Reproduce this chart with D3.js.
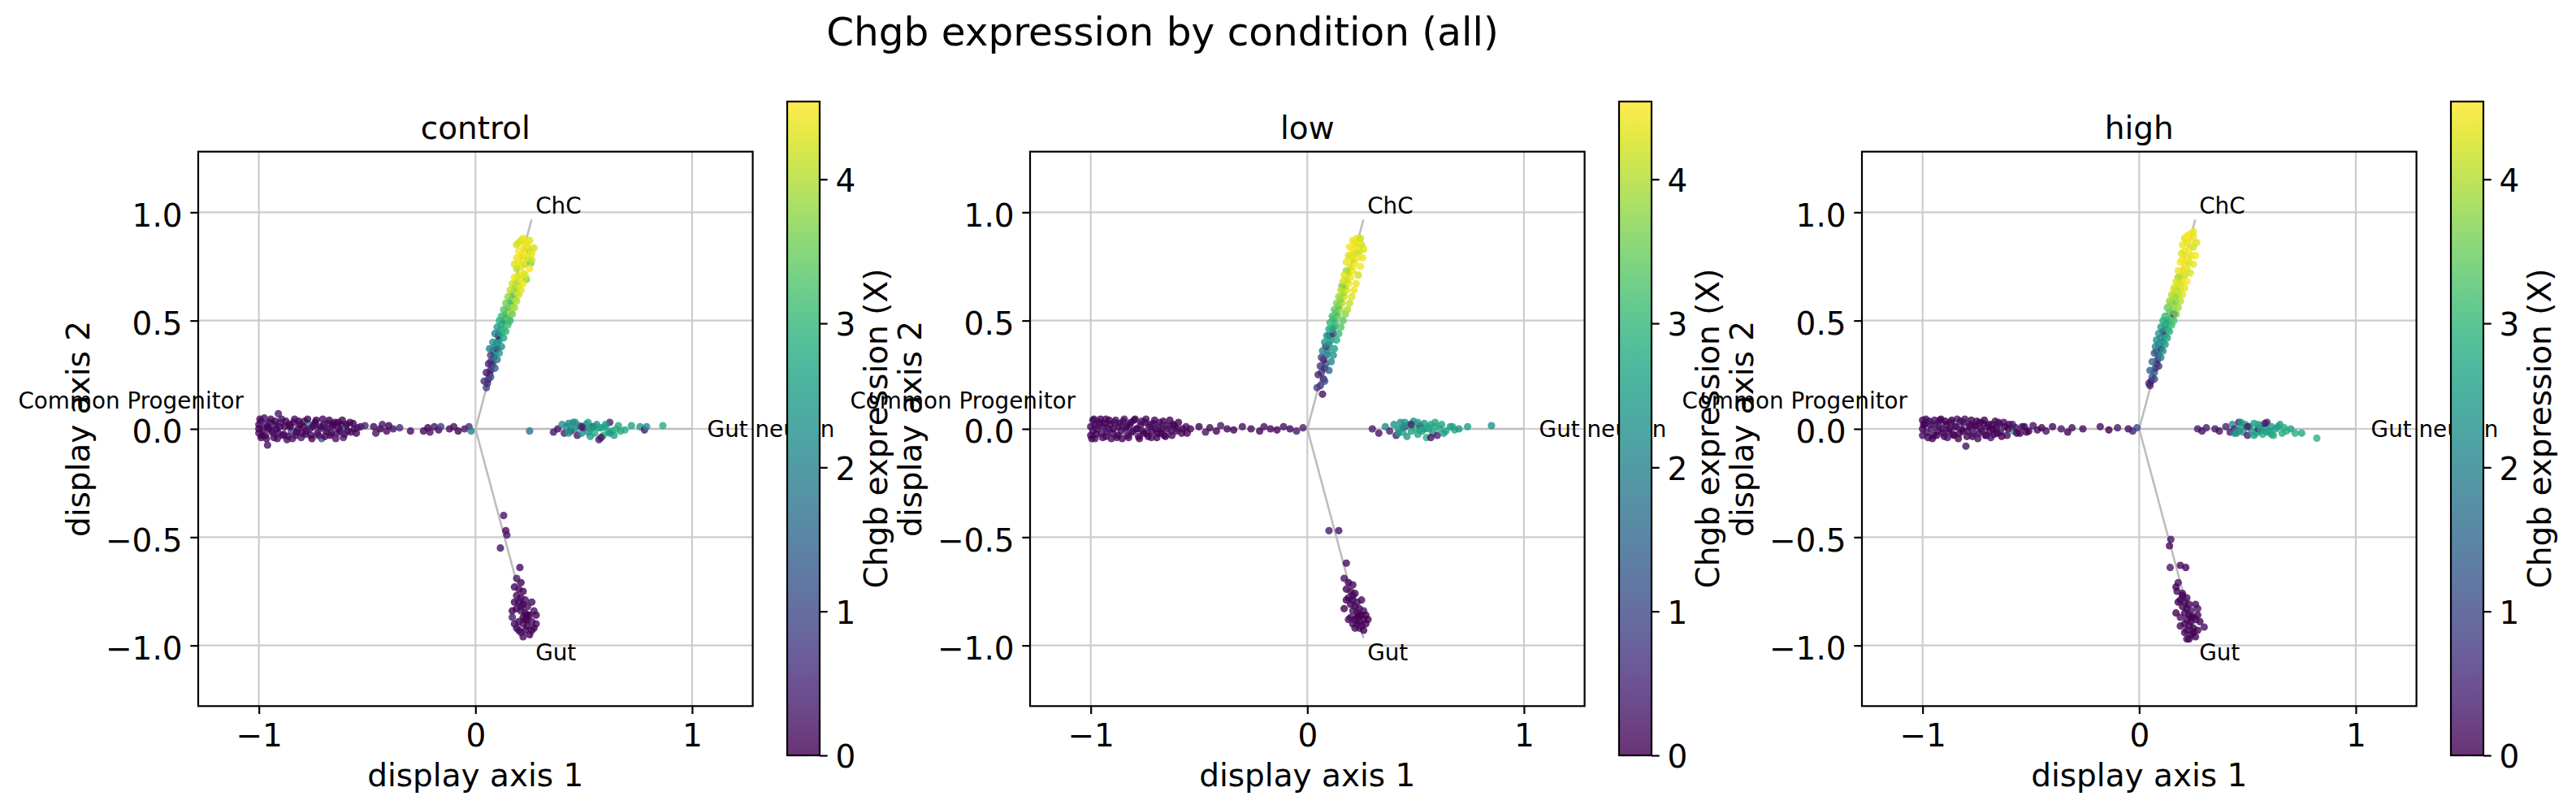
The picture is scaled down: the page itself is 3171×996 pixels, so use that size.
<!DOCTYPE html>
<html>
<head>
<meta charset="utf-8">
<script src="https://cdn.jsdelivr.net/npm/d3@7"></script>
<style>
  body { margin: 0; background: #fff; }
  svg text { font-family: "DejaVu Sans", sans-serif; fill: #000; }
</style>
</head>
<body>
<div id="chart"></div>
<script>
// values
const conditions = ["control", "low", "high"]
const branchNames = ["Common Progenitor", "Gut neuron", "ChC", "Gut"]
const branchEnds = [[-1, 0], [1, 0], [0.259, 0.966], [0.259, -0.966]]
const branchLabelAt = [[-1.07, 0.13], [1.07, 0], [0.277, 1.03], [0.277, -1.03]]
const xTicks = [-1, 0, 1]
const xTickLabels = ["\u22121", "0", "1"]
const yTicks = [-1, -0.5, 0, 0.5, 1]
const yTickLabels = ["\u22121.0", "\u22120.5", "0.0", "0.5", "1.0"]
const cbTicks = [0, 1, 2, 3, 4]
const cbMax = 4.54

// [x, y, Chgb] per branch
const controlCP = [[-1.00,0.02,0.1],[-1.00,-0.02,0.2],[-1.00,0.0,0.0],[-0.99,0.035,0.3],[-0.99,-0.04,0.1],[-0.98,0.0,0.0],[-0.97,0.02,0.6],[-0.97,-0.03,0.1],[-0.96,0.01,0.0],[-0.96,-0.075,0.2],[-0.95,0.03,0.1],[-0.94,-0.01,0.0],[-0.93,0.02,0.4],[-0.93,-0.04,0.1],[-0.92,0.0,0.1],[-0.91,0.07,0.3],[-0.91,-0.02,0.0],[-0.90,0.03,0.8],[-0.89,-0.03,0.1],[-0.88,0.01,0.0],[-0.87,-0.05,0.2],[-0.86,0.02,0.1],[-0.85,-0.01,1.0],[-0.84,0.03,0.0],[-0.83,-0.03,0.1],[-0.82,0.0,0.2],[-0.81,0.02,0.0],[-0.80,-0.02,0.1],[-0.79,0.035,0.3],[-0.78,-0.01,0.0],[-0.77,0.02,2.3],[-0.76,-0.03,0.1],[-0.75,0.01,0.0],[-0.74,0.03,0.2],[-0.73,-0.02,0.1],[-0.72,0.0,0.6],[-0.71,-0.045,1.2],[-0.70,0.02,0.0],[-0.69,-0.01,0.1],[-0.68,0.025,0.3],[-0.67,-0.03,0.0],[-0.66,0.01,0.1],[-0.65,0.03,0.0],[-0.64,-0.02,0.2],[-0.63,0.0,0.1],[-0.62,0.02,0.0],[-0.61,-0.04,0.3],[-0.60,0.01,1.5],[-0.59,-0.01,0.0],[-0.58,0.03,0.1],[-0.56,0.0,0.2],[-0.55,-0.02,0.0],[-0.53,0.01,0.1],[-0.51,0.015,0.4],[-0.47,0.01,0.1],[-0.46,-0.02,0.2],[-0.44,0.0,0.0],[-0.43,0.02,0.3],[-0.41,-0.01,0.1],[-0.40,0.015,0.0],[-0.38,0.0,0.2],[-0.35,0.005,0.5],[-0.30,-0.01,0.1],[-0.24,-0.01,0.1],[-0.22,0.005,0.0],[-0.21,-0.015,0.2],[-0.19,0.01,0.3],[-0.17,-0.005,0.1],[-0.16,0.01,0.8],[-0.12,0.0,0.1],[-0.10,0.01,0.2],[-0.08,-0.01,0.0],[-0.05,0.0,0.3],[-0.03,0.01,0.6],[-0.02,-0.01,2.0]]
const controlChC = [[0.05,0.19,0.9],[0.055,0.21,0.5],[0.06,0.23,0.3],[0.065,0.25,1.2],[0.07,0.27,0.2],[0.075,0.29,0.8],[0.08,0.30,1.0],[0.07,0.31,0.4],[0.085,0.33,1.6],[0.09,0.35,2.2],[0.08,0.36,2.4],[0.10,0.37,0.3],[0.09,0.38,2.0],[0.10,0.40,2.6],[0.11,0.41,2.3],[0.105,0.43,0.3],[0.12,0.44,2.8],[0.11,0.45,2.5],[0.13,0.46,3.1],[0.12,0.48,2.7],[0.14,0.49,3.3],[0.13,0.50,2.4],[0.15,0.51,3.6],[0.14,0.53,3.0],[0.16,0.54,4.2],[0.15,0.56,3.4],[0.17,0.57,3.8],[0.16,0.59,2.9],[0.18,0.60,4.0],[0.17,0.62,3.2],[0.19,0.63,4.1],[0.18,0.65,3.7],[0.20,0.66,4.3],[0.19,0.68,3.9],[0.21,0.69,4.4],[0.235,0.69,3.7],[0.20,0.71,4.2],[0.22,0.72,4.5],[0.19,0.74,4.0],[0.21,0.75,4.3],[0.23,0.76,4.1],[0.20,0.77,4.5],[0.22,0.78,4.4],[0.24,0.79,4.2],[0.21,0.80,4.3],[0.23,0.81,4.5],[0.25,0.82,4.0],[0.22,0.83,4.4],[0.24,0.84,4.3],[0.19,0.85,4.2],[0.27,0.835,4.2],[0.23,0.86,4.5],[0.21,0.87,4.1],[0.25,0.87,4.3],[0.22,0.88,4.4],[0.255,0.765,3.6]]
const controlGN = [[0.25,-0.01,1.8],[0.36,-0.015,0.3],[0.38,0.0,0.2],[0.40,0.02,2.2],[0.41,-0.02,0.4],[0.42,0.01,2.4],[0.43,0.025,2.0],[0.44,-0.01,0.2],[0.45,0.03,2.3],[0.46,0.0,2.1],[0.47,-0.03,0.3],[0.48,0.015,2.5],[0.49,-0.02,2.2],[0.50,0.005,0.4],[0.51,0.02,2.6],[0.52,-0.015,2.3],[0.53,-0.035,2.5],[0.54,0.01,0.2],[0.55,-0.02,2.7],[0.56,0.02,2.4],[0.57,-0.05,0.3],[0.58,0.005,2.6],[0.59,-0.03,2.8],[0.60,0.01,2.5],[0.61,-0.015,2.9],[0.62,0.03,0.4],[0.63,-0.01,2.7],[0.64,-0.03,2.6],[0.65,0.0,2.9],[0.67,-0.01,2.7],[0.69,-0.005,2.8],[0.72,0.015,2.6],[0.76,0.01,2.4],[0.78,-0.005,0.3],[0.79,0.01,2.2],[0.865,0.015,2.8]]
const controlGut = [[0.13,-0.40,0.2],[0.14,-0.47,0.1],[0.145,-0.49,0.3],[0.115,-0.55,0.2],[0.205,-0.64,0.1],[0.19,-0.69,0.3],[0.21,-0.71,0.0],[0.18,-0.73,0.1],[0.20,-0.74,0.2],[0.22,-0.75,0.0],[0.19,-0.77,0.1],[0.21,-0.78,0.0],[0.23,-0.79,0.2],[0.20,-0.80,0.1],[0.22,-0.81,0.0],[0.24,-0.82,0.1],[0.19,-0.83,0.0],[0.21,-0.84,0.2],[0.23,-0.85,0.0],[0.25,-0.86,0.1],[0.17,-0.87,0.3],[0.22,-0.87,0.0],[0.24,-0.88,0.1],[0.20,-0.89,0.0],[0.26,-0.89,0.2],[0.22,-0.90,0.1],[0.24,-0.91,0.0],[0.19,-0.92,0.1],[0.23,-0.93,0.0],[0.26,-0.93,0.1],[0.21,-0.94,0.2],[0.25,-0.95,0.0],[0.28,-0.90,0.1]]
const controlExtra = [[-0.995,0.045,0.1],[-0.985,-0.03,0.0],[-0.975,0.05,0.2],[-0.965,-0.045,0.1],[-0.955,0.0,0.0],[-0.945,0.045,0.1],[-0.935,-0.02,0.2],[-0.925,0.035,0.0],[-0.915,-0.045,0.1],[-0.905,0.01,0.0],[-0.895,0.045,0.2],[-0.885,-0.025,0.1],[-0.875,0.035,0.0],[-0.865,-0.035,0.1],[-0.855,0.01,0.0],[-0.845,-0.045,0.2],[-0.835,0.045,0.1],[-0.825,-0.015,0.0],[-0.815,0.035,0.1],[-0.805,-0.04,0.3],[-0.795,0.01,0.0],[-0.785,-0.025,0.1],[-0.775,0.045,0.0],[-0.765,0.0,0.2],[-0.755,-0.045,0.0],[-0.745,0.02,0.1],[-0.735,0.04,0.0],[-0.725,-0.03,0.2],[-0.715,0.01,0.0],[-0.705,0.045,0.1],[-0.695,-0.035,0.0],[-0.685,0.0,0.2],[-0.675,0.04,0.0],[-0.665,-0.02,0.1],[-0.655,0.02,0.0],[-0.645,-0.045,0.2],[-0.635,0.03,0.0],[-0.625,-0.01,0.1],[-0.615,0.04,0.0],[-0.605,-0.025,0.2],[-0.595,0.02,0.0],[-0.575,-0.015,0.1],[-0.565,0.025,0.0],[-0.545,0.005,0.2],
  [0.04,0.22,0.6],[0.07,0.24,1.0],[0.05,0.26,0.3],[0.09,0.28,1.3],[0.06,0.30,0.5],[0.10,0.32,1.8],[0.07,0.34,0.8],[0.11,0.35,2.4],[0.065,0.37,1.9],[0.12,0.38,2.2],[0.08,0.40,2.3],[0.13,0.42,2.7],[0.09,0.44,2.0],[0.14,0.45,3.0],[0.10,0.47,2.6],[0.15,0.48,3.2],[0.11,0.50,2.9],[0.16,0.50,3.0],[0.12,0.52,3.1],[0.17,0.53,3.5],[0.13,0.55,3.3],[0.18,0.56,3.9],[0.14,0.58,3.6],[0.19,0.59,4.0],[0.15,0.61,3.8],[0.20,0.62,4.2],[0.16,0.64,4.1],[0.21,0.64,4.3],[0.17,0.67,4.2],[0.22,0.67,4.4],[0.18,0.70,4.4],[0.23,0.71,4.3],[0.18,0.76,4.3],[0.25,0.74,4.5],[0.19,0.79,4.4],[0.26,0.78,4.2],[0.20,0.82,4.5],[0.26,0.81,4.4],[0.20,0.86,4.3],[0.24,0.86,4.4],
  [0.43,-0.02,2.4],[0.46,0.03,2.2],[0.49,0.01,0.3],[0.52,0.03,2.5],[0.55,0.01,2.3],[0.58,-0.04,0.2],[0.60,0.02,2.6],[0.62,-0.02,2.4],[0.66,0.015,2.8],[0.44,0.01,2.5],[0.53,0.0,2.6],[0.57,0.005,2.7],
  [0.18,-0.80,0.0],[0.26,-0.80,0.1],[0.17,-0.84,0.0],[0.27,-0.84,0.2],[0.18,-0.90,0.1],[0.27,-0.92,0.0],[0.20,-0.93,0.1],[0.28,-0.86,0.0],[0.22,-0.96,0.1],[0.24,-0.86,0.0],[0.21,-0.82,0.1],[0.23,-0.88,0.0]]

const lowCP = [[-1.00,0.01,0.1],[-1.00,-0.03,0.0],[-0.99,0.04,0.2],[-0.99,-0.01,0.1],[-0.98,0.02,0.0],[-0.98,-0.045,0.3],[-0.97,0.0,0.1],[-0.96,0.03,0.0],[-0.95,-0.02,0.2],[-0.94,0.01,0.0],[-0.93,0.045,0.1],[-0.93,-0.035,0.0],[-0.92,0.0,0.3],[-0.91,0.02,0.0],[-0.90,-0.02,0.1],[-0.89,0.03,0.0],[-0.88,-0.04,0.2],[-0.87,0.01,0.0],[-0.86,-0.01,0.1],[-0.85,0.035,0.0],[-0.84,0.0,0.2],[-0.83,-0.03,0.0],[-0.82,0.02,0.1],[-0.81,-0.015,0.0],[-0.80,0.04,0.3],[-0.79,0.0,0.0],[-0.78,-0.035,0.1],[-0.77,0.02,0.0],[-0.76,-0.01,0.2],[-0.75,0.03,0.0],[-0.74,-0.02,0.1],[-0.73,0.01,0.0],[-0.72,-0.04,0.2],[-0.71,0.025,0.0],[-0.70,0.0,0.1],[-0.69,-0.02,0.0],[-0.68,0.03,0.2],[-0.67,0.0,0.0],[-0.66,-0.03,0.1],[-0.65,0.015,0.0],[-0.63,-0.01,0.3],[-0.62,0.02,0.0],[-0.60,0.0,0.1],[-0.58,-0.02,0.0],[-0.56,0.01,0.2],[-0.54,0.0,0.1],[-0.50,0.01,0.0],[-0.47,-0.015,0.2],[-0.45,0.005,0.1],[-0.42,-0.01,0.0],[-0.40,0.015,0.3],[-0.37,0.0,0.1],[-0.34,-0.005,0.0],[-0.30,0.01,0.2],[-0.26,0.0,0.1],[-0.22,-0.01,0.0],[-0.20,0.01,0.2],[-0.17,0.0,0.1],[-0.14,-0.005,0.0],[-0.11,0.01,0.2],[-0.08,0.0,0.1],[-0.05,-0.01,0.3],[-0.02,0.005,0.4]]
const lowChC = [[0.07,0.16,0.2],[0.06,0.20,0.6],[0.075,0.23,0.3],[0.065,0.26,1.0],[0.08,0.28,0.4],[0.085,0.30,1.4],[0.075,0.32,0.2],[0.09,0.34,1.9],[0.095,0.36,2.3],[0.085,0.38,0.5],[0.10,0.39,2.1],[0.11,0.41,2.6],[0.10,0.43,2.4],[0.12,0.44,0.4],[0.115,0.46,2.9],[0.125,0.47,2.6],[0.13,0.49,3.2],[0.12,0.51,2.8],[0.14,0.52,3.5],[0.135,0.54,3.1],[0.15,0.55,3.9],[0.145,0.57,3.3],[0.16,0.58,4.0],[0.155,0.60,3.6],[0.17,0.61,4.2],[0.165,0.63,3.8],[0.18,0.64,4.3],[0.175,0.66,4.0],[0.19,0.67,4.4],[0.185,0.69,4.1],[0.20,0.70,4.5],[0.19,0.72,4.2],[0.21,0.73,4.4],[0.20,0.75,4.3],[0.22,0.76,4.5],[0.21,0.78,4.2],[0.23,0.79,4.4],[0.20,0.80,4.5],[0.22,0.81,4.3],[0.24,0.82,4.1],[0.21,0.83,4.4],[0.23,0.84,4.5],[0.25,0.85,4.2],[0.22,0.86,4.3],[0.24,0.87,4.5],[0.23,0.88,4.4],[0.18,0.73,3.9],[0.16,0.66,3.5]]
const lowGN = [[0.30,0.0,0.3],[0.33,-0.02,0.2],[0.36,0.01,2.1],[0.38,-0.01,0.4],[0.40,0.02,2.3],[0.41,-0.03,0.3],[0.42,0.0,2.5],[0.43,0.03,2.2],[0.44,-0.015,2.6],[0.45,0.01,0.5],[0.46,-0.035,2.4],[0.47,0.02,2.7],[0.48,-0.01,2.5],[0.49,0.035,2.3],[0.50,0.0,2.8],[0.51,-0.025,2.6],[0.52,0.015,0.3],[0.53,-0.01,2.7],[0.54,0.025,2.5],[0.55,-0.04,2.9],[0.56,0.0,2.6],[0.57,0.02,2.8],[0.58,-0.02,2.4],[0.59,0.01,2.7],[0.60,-0.03,0.4],[0.61,0.0,2.9],[0.62,0.02,2.6],[0.64,-0.01,2.8],[0.66,0.01,2.5],[0.68,-0.005,2.7],[0.70,0.0,2.4],[0.74,0.01,2.6],[0.85,0.015,2.3]]
const lowGut = [[0.10,-0.47,0.3],[0.145,-0.47,0.2],[0.18,-0.62,0.1],[0.17,-0.69,0.2],[0.19,-0.71,0.0],[0.21,-0.72,0.1],[0.18,-0.74,0.0],[0.20,-0.75,0.2],[0.22,-0.76,0.0],[0.19,-0.78,0.1],[0.21,-0.79,0.0],[0.23,-0.80,0.2],[0.20,-0.81,0.0],[0.22,-0.82,0.1],[0.24,-0.83,0.0],[0.21,-0.84,0.2],[0.23,-0.85,0.1],[0.25,-0.86,0.0],[0.20,-0.87,0.1],[0.22,-0.88,0.0],[0.24,-0.89,0.2],[0.26,-0.88,0.1],[0.23,-0.90,0.0],[0.25,-0.91,0.1],[0.27,-0.90,0.0],[0.24,-0.92,0.2],[0.26,-0.93,0.0]]
const lowExtra = [[-0.995,-0.045,0.0],[-0.985,0.045,0.1],[-0.975,-0.025,0.0],[-0.965,0.015,0.2],[-0.955,0.045,0.0],[-0.945,-0.04,0.1],[-0.935,0.025,0.0],[-0.925,-0.015,0.2],[-0.915,0.04,0.0],[-0.905,-0.045,0.1],[-0.895,0.0,0.0],[-0.885,0.04,0.2],[-0.875,-0.03,0.0],[-0.865,0.025,0.1],[-0.855,-0.045,0.0],[-0.845,0.045,0.2],[-0.835,0.01,0.0],[-0.825,-0.04,0.1],[-0.815,0.03,0.0],[-0.805,-0.01,0.2],[-0.795,0.045,0.0],[-0.785,0.0,0.1],[-0.775,-0.045,0.0],[-0.765,0.035,0.2],[-0.755,-0.02,0.0],[-0.745,0.045,0.1],[-0.735,-0.035,0.0],[-0.725,0.02,0.2],[-0.715,-0.01,0.0],[-0.705,0.04,0.1],[-0.695,-0.04,0.0],[-0.685,0.01,0.2],[-0.675,-0.02,0.0],[-0.665,0.035,0.1],[-0.655,-0.035,0.0],[-0.645,0.0,0.2],[-0.635,0.04,0.0],[-0.625,-0.03,0.1],[-0.615,0.015,0.0],[-0.605,-0.01,0.2],[-0.595,0.03,0.0],[-0.575,0.0,0.1],[-0.555,-0.02,0.0],
  [0.045,0.19,0.8],[0.08,0.22,1.1],[0.05,0.25,0.4],[0.10,0.27,1.5],[0.06,0.29,0.6],[0.11,0.31,2.0],[0.065,0.33,0.9],[0.12,0.34,2.3],[0.07,0.36,2.0],[0.125,0.37,2.5],[0.08,0.40,2.4],[0.135,0.41,2.8],[0.09,0.43,2.2],[0.145,0.44,3.1],[0.10,0.46,2.7],[0.155,0.47,3.3],[0.105,0.49,3.0],[0.165,0.50,3.4],[0.115,0.52,3.2],[0.175,0.53,3.7],[0.125,0.55,3.4],[0.185,0.55,4.0],[0.135,0.58,3.7],[0.195,0.58,4.1],[0.145,0.61,3.9],[0.205,0.61,4.3],[0.155,0.64,4.1],[0.215,0.64,4.4],[0.165,0.68,4.2],[0.225,0.67,4.4],[0.17,0.71,4.3],[0.235,0.71,4.2],[0.18,0.77,4.4],[0.245,0.75,4.5],[0.19,0.80,4.3],[0.255,0.79,4.4],[0.195,0.84,4.5],[0.26,0.83,4.3],[0.21,0.87,4.4],[0.245,0.88,4.2],
  [0.42,-0.02,2.5],[0.45,0.03,2.3],[0.48,0.02,0.4],[0.51,0.03,2.6],[0.54,0.0,2.4],[0.57,-0.04,0.3],[0.59,0.03,2.7],[0.63,-0.02,2.5],[0.67,0.01,2.6],[0.44,0.005,2.4],[0.52,-0.005,2.7],[0.56,0.01,2.8],
  [0.18,-0.79,0.0],[0.25,-0.79,0.1],[0.17,-0.83,0.0],[0.26,-0.84,0.2],[0.19,-0.88,0.1],[0.28,-0.88,0.0],[0.21,-0.90,0.1],[0.27,-0.86,0.0],[0.22,-0.92,0.1],[0.24,-0.86,0.0],[0.21,-0.77,0.1],[0.23,-0.87,0.0]]

const highCP = [[-1.00,0.04,0.1],[-1.00,0.0,0.0],[-1.00,-0.03,0.2],[-0.99,0.02,0.0],[-0.98,-0.015,0.1],[-0.97,0.035,0.0],[-0.96,0.0,0.3],[-0.95,-0.03,0.0],[-0.94,0.02,0.1],[-0.93,-0.01,0.0],[-0.92,0.04,0.2],[-0.91,0.0,0.0],[-0.90,-0.035,0.1],[-0.89,0.02,0.0],[-0.88,-0.01,0.2],[-0.87,0.03,0.0],[-0.86,-0.025,0.1],[-0.85,0.01,0.0],[-0.84,0.045,0.3],[-0.83,-0.02,0.0],[-0.82,0.0,0.1],[-0.81,0.03,0.0],[-0.80,-0.08,0.2],[-0.79,-0.01,0.0],[-0.78,0.02,0.1],[-0.77,-0.035,0.0],[-0.76,0.01,0.2],[-0.75,0.035,0.0],[-0.74,-0.02,0.1],[-0.73,0.0,0.0],[-0.72,0.025,0.2],[-0.71,-0.03,0.0],[-0.70,0.01,0.1],[-0.69,-0.01,0.0],[-0.68,0.02,0.3],[-0.67,-0.025,0.0],[-0.66,0.005,0.1],[-0.65,0.03,0.0],[-0.64,-0.015,0.2],[-0.62,0.01,0.0],[-0.61,-0.03,0.1],[-0.60,0.02,0.0],[-0.58,-0.01,2.5],[-0.57,0.005,0.2],[-0.55,-0.02,0.0],[-0.53,0.01,0.1],[-0.51,-0.01,0.0],[-0.49,0.015,0.2],[-0.47,-0.005,0.1],[-0.45,0.005,0.0],[-0.43,-0.01,0.2],[-0.40,0.01,0.1],[-0.36,0.0,0.3],[-0.33,-0.015,0.0],[-0.31,0.005,0.2],[-0.26,0.0,0.1],[-0.18,0.01,0.2],[-0.14,-0.005,0.0],[-0.10,0.005,0.3],[-0.05,0.0,0.1],[-0.03,-0.01,0.4],[-0.01,0.005,1.0]]
const highChC = [[0.05,0.20,0.3],[0.055,0.22,0.0],[0.06,0.24,1.2],[0.07,0.26,1.5],[0.075,0.28,0.6],[0.08,0.30,1.0],[0.085,0.32,0.4],[0.09,0.34,1.3],[0.08,0.36,2.2],[0.10,0.37,0.5],[0.09,0.39,2.0],[0.11,0.40,2.4],[0.10,0.42,1.8],[0.12,0.43,2.6],[0.11,0.45,0.6],[0.13,0.46,2.8],[0.12,0.48,2.5],[0.14,0.49,3.0],[0.13,0.50,2.7],[0.15,0.51,3.2],[0.16,0.53,0.3],[0.14,0.54,3.4],[0.16,0.56,3.7],[0.15,0.58,3.9],[0.17,0.59,3.5],[0.16,0.61,4.1],[0.18,0.62,3.8],[0.17,0.64,4.3],[0.19,0.65,4.0],[0.18,0.67,4.4],[0.20,0.68,4.2],[0.19,0.70,4.5],[0.21,0.71,4.1],[0.20,0.73,4.4],[0.22,0.74,4.3],[0.21,0.76,4.5],[0.23,0.77,4.2],[0.20,0.78,4.4],[0.22,0.79,4.5],[0.24,0.80,4.3],[0.21,0.82,4.4],[0.23,0.83,4.5],[0.25,0.84,4.2],[0.22,0.86,4.4],[0.24,0.87,4.5],[0.21,0.88,4.3],[0.235,0.90,4.5],[0.25,0.89,4.4],[0.18,0.70,3.9]]
const highGN = [[0.27,0.0,0.3],[0.29,-0.01,0.2],[0.31,0.005,0.4],[0.35,0.0,0.3],[0.37,-0.01,0.2],[0.40,0.01,0.4],[0.42,-0.015,0.3],[0.43,0.02,2.2],[0.44,0.0,0.5],[0.45,-0.02,2.4],[0.46,0.03,0.3],[0.47,0.005,2.5],[0.48,-0.015,2.3],[0.49,0.02,2.6],[0.50,-0.03,0.4],[0.51,0.01,2.7],[0.52,-0.01,2.4],[0.53,0.025,2.5],[0.54,-0.02,2.8],[0.55,0.0,0.3],[0.56,0.015,2.6],[0.57,-0.025,2.9],[0.58,0.005,2.5],[0.59,0.03,0.4],[0.60,-0.01,2.7],[0.61,0.01,2.4],[0.62,-0.03,2.8],[0.63,0.0,2.6],[0.65,0.02,2.5],[0.66,-0.02,2.7],[0.68,-0.01,2.9],[0.70,0.0,2.6],[0.72,-0.02,2.8],[0.75,-0.02,2.7],[0.82,-0.043,2.9]]
const highGut = [[0.146,-0.51,0.2],[0.14,-0.54,0.1],[0.143,-0.64,0.3],[0.19,-0.63,0.1],[0.215,-0.64,0.0],[0.18,-0.71,0.2],[0.175,-0.75,0.1],[0.20,-0.77,0.0],[0.22,-0.78,0.1],[0.19,-0.79,0.0],[0.21,-0.80,0.2],[0.23,-0.81,0.0],[0.20,-0.82,0.1],[0.22,-0.83,0.0],[0.24,-0.84,0.2],[0.21,-0.85,0.0],[0.23,-0.86,0.1],[0.25,-0.87,0.0],[0.19,-0.87,0.2],[0.22,-0.88,0.1],[0.24,-0.89,0.0],[0.26,-0.88,0.2],[0.21,-0.90,0.0],[0.23,-0.91,0.1],[0.25,-0.92,0.0],[0.30,-0.915,0.2],[0.22,-0.93,0.1],[0.24,-0.95,0.0],[0.26,-0.96,0.1],[0.23,-0.97,0.0],[0.27,-0.86,0.0],[0.17,-0.73,0.0]]
const highExtra = [[-0.995,0.02,0.0],[-0.985,0.045,0.1],[-0.975,-0.04,0.0],[-0.965,0.02,0.2],[-0.955,-0.045,0.0],[-0.945,0.04,0.1],[-0.935,-0.03,0.0],[-0.925,0.015,0.2],[-0.915,0.045,0.0],[-0.905,-0.02,0.1],[-0.895,0.035,0.0],[-0.885,-0.04,0.2],[-0.875,0.0,0.0],[-0.865,0.04,0.1],[-0.855,-0.03,0.0],[-0.845,0.01,0.2],[-0.835,-0.045,0.0],[-0.825,0.035,0.1],[-0.815,-0.01,0.0],[-0.805,0.045,0.2],[-0.795,-0.035,0.0],[-0.785,0.01,0.1],[-0.775,0.04,0.0],[-0.765,-0.02,0.2],[-0.755,0.015,0.0],[-0.745,-0.045,0.1],[-0.735,0.03,0.0],[-0.725,-0.01,0.2],[-0.715,0.04,0.0],[-0.705,-0.03,0.1],[-0.695,0.02,0.0],[-0.685,-0.04,0.2],[-0.675,0.0,0.0],[-0.665,0.035,0.1],[-0.655,-0.02,0.0],[-0.645,0.02,0.2],[-0.635,-0.035,0.0],[-0.625,0.03,0.1],[-0.605,0.0,0.0],[-0.585,0.02,0.2],[-0.565,-0.02,0.0],[-0.54,0.01,0.1],[-0.52,-0.015,0.0],
  [0.045,0.21,0.5],[0.07,0.23,0.9],[0.05,0.27,1.4],[0.09,0.29,0.7],[0.06,0.31,1.6],[0.10,0.33,2.0],[0.07,0.35,1.1],[0.11,0.36,2.3],[0.075,0.38,2.1],[0.12,0.39,2.5],[0.08,0.41,2.2],[0.13,0.42,2.7],[0.09,0.44,2.4],[0.14,0.45,2.9],[0.10,0.47,2.6],[0.15,0.48,3.1],[0.11,0.50,2.8],[0.16,0.50,3.3],[0.12,0.52,3.0],[0.17,0.53,3.6],[0.13,0.56,3.5],[0.18,0.56,3.9],[0.14,0.59,3.8],[0.19,0.59,4.1],[0.15,0.62,4.0],[0.20,0.62,4.3],[0.16,0.65,4.2],[0.21,0.65,4.4],[0.17,0.68,4.3],[0.22,0.68,4.5],[0.18,0.73,4.4],[0.235,0.72,4.3],[0.19,0.77,4.5],[0.25,0.76,4.4],[0.195,0.81,4.3],[0.26,0.80,4.5],[0.20,0.85,4.4],[0.265,0.86,4.3],[0.22,0.89,4.5],[0.25,0.91,4.4],
  [0.44,-0.02,2.3],[0.47,0.03,2.5],[0.50,0.01,0.3],[0.53,-0.03,2.6],[0.56,-0.01,2.4],[0.58,0.025,0.3],[0.61,-0.025,2.7],[0.64,0.01,2.6],[0.67,0.005,2.8],[0.46,-0.01,2.4],[0.55,0.02,2.7],[0.59,-0.015,2.6],
  [0.18,-0.80,0.0],[0.26,-0.81,0.1],[0.17,-0.85,0.0],[0.27,-0.83,0.2],[0.19,-0.91,0.1],[0.27,-0.93,0.0],[0.21,-0.94,0.1],[0.28,-0.89,0.0],[0.22,-0.97,0.1],[0.24,-0.87,0.0],[0.20,-0.76,0.1],[0.25,-0.94,0.0]]

const cells = {
  control: [].concat(controlCP, controlChC, controlGN, controlGut, controlExtra),
  low: [].concat(lowCP, lowChC, lowGN, lowGut, lowExtra),
  high: [].concat(highCP, highChC, highGN, highGut, highExtra)
}

const width = 3171
const height = 996
const svg = d3.select("#chart")
  .append("svg")
    .attr("width", width)
    .attr("height", height)

svg.append("text")
  .attr("x", 1431)
  .attr("y", 56)
  .attr("text-anchor", "middle")
  .style("font-size", "48.5px")
  .text("Chgb expression by condition (all)")

const color = d3.scaleSequential(d3.interpolateViridis).domain([0, cbMax])

// colorbar gradient, drawn with the same alpha as the points
const grad = svg.append("defs").append("linearGradient")
  .attr("id", "viridis")
  .attr("x1", 0).attr("y1", 1).attr("x2", 0).attr("y2", 0)
d3.range(0, 1.0001, 0.05).forEach(t => {
  grad.append("stop")
    .attr("offset", t)
    .attr("stop-color", d3.interpolateViridis(t))
    .attr("stop-opacity", 0.8)
})

const step = 1024
const axSize = 682.6
const lw = 2.2
const tick = 9.7

conditions.forEach((cond, i) => {
  const left = 244 + i * step
  const top = 186.7
  const x = d3.scaleLinear().domain([-1.28, 1.28]).range([left, left + axSize])
  const y = d3.scaleLinear().domain([-1.28, 1.28]).range([top + axSize, top])
  const g = svg.append("g")

  // grid
  g.append("g").selectAll("line")
    .data(xTicks)
    .join("line")
      .attr("x1", d => x(d)).attr("x2", d => x(d))
      .attr("y1", top).attr("y2", top + axSize)
      .attr("stroke", "#cccccc").attr("stroke-width", lw)
  g.append("g").selectAll("line")
    .data(yTicks)
    .join("line")
      .attr("x1", left).attr("x2", left + axSize)
      .attr("y1", d => y(d)).attr("y2", d => y(d))
      .attr("stroke", "#cccccc").attr("stroke-width", lw)

  // trajectory spokes
  g.append("g").selectAll("line")
    .data(branchEnds)
    .join("line")
      .attr("x1", x(0)).attr("y1", y(0))
      .attr("x2", d => x(d[0])).attr("y2", d => y(d[1]))
      .attr("stroke", "#bdbdbd").attr("stroke-width", 2.6)

  // cells
  g.append("g").selectAll("circle")
    .data(cells[cond])
    .join("circle")
      .attr("cx", d => x(d[0]))
      .attr("cy", d => y(d[1]))
      .attr("r", 4.6)
      .style("fill", d => color(d[2]))
      .style("fill-opacity", 0.8)

  // frame
  g.append("rect")
    .attr("x", left).attr("y", top)
    .attr("width", axSize).attr("height", axSize)
    .attr("fill", "none").attr("stroke", "#000").attr("stroke-width", lw)

  const xAxis = g.append("g")
    .attr("transform", `translate(0,${top + axSize})`)
    .call(d3.axisBottom(x).tickValues(xTicks).tickSize(tick).tickPadding(12.6)
      .tickFormat((d, k) => xTickLabels[k]))
  const yAxis = g.append("g")
    .attr("transform", `translate(${left},0)`)
    .call(d3.axisLeft(y).tickValues(yTicks).tickSize(tick).tickPadding(tick)
      .tickFormat((d, k) => yTickLabels[k]))
  ;[xAxis, yAxis].forEach(a => {
    a.select(".domain").remove()
    a.selectAll(".tick line").attr("stroke", "#000").attr("stroke-width", lw)
    a.selectAll(".tick text")
      .style("font-family", "DejaVu Sans")
      .style("font-size", "39px")
      .attr("fill", "#000")
  })
  yAxis.selectAll(".tick text").attr("dy", "0.43em")

  // branch labels
  g.append("g").selectAll("text")
    .data(branchNames)
    .join("text")
      .attr("x", (d, k) => x(branchLabelAt[k][0]))
      .attr("y", (d, k) => y(branchLabelAt[k][1]))
      .attr("dy", "0.36em")
      .attr("text-anchor", (d, k) => branchLabelAt[k][0] < 0 ? "end" : "start")
      .style("font-size", "27.8px")
      .text(d => d)

  g.append("text")
    .attr("x", left + axSize / 2).attr("y", 171)
    .attr("text-anchor", "middle")
    .style("font-size", "39px")
    .text(cond)
  g.append("text")
    .attr("x", left + axSize / 2).attr("y", 968)
    .attr("text-anchor", "middle")
    .style("font-size", "39px")
    .text("display axis 1")
  g.append("text")
    .attr("transform", `translate(${110 + i * step},${top + axSize / 2}) rotate(-90)`)
    .attr("text-anchor", "middle")
    .style("font-size", "39px")
    .text("display axis 2")

  // colorbar (white backing so labels underneath do not show through)
  const cbLeft = 969 + i * step
  const cbTop = 125
  const cbBottom = 930
  const cbW = 40
  const c = d3.scaleLinear().domain([0, cbMax]).range([cbBottom, cbTop])
  g.append("rect")
    .attr("x", cbLeft).attr("y", cbTop)
    .attr("width", cbW).attr("height", cbBottom - cbTop)
    .attr("fill", "#fff")
  g.append("rect")
    .attr("x", cbLeft).attr("y", cbTop)
    .attr("width", cbW).attr("height", cbBottom - cbTop)
    .attr("fill", "url(#viridis)")
  g.append("rect")
    .attr("x", cbLeft).attr("y", cbTop)
    .attr("width", cbW).attr("height", cbBottom - cbTop)
    .attr("fill", "none").attr("stroke", "#000").attr("stroke-width", lw)
  const cAxis = g.append("g")
    .attr("transform", `translate(${cbLeft + cbW},0)`)
    .call(d3.axisRight(c).tickValues(cbTicks).tickSize(tick).tickPadding(tick)
      .tickFormat(d3.format("d")))
  cAxis.select(".domain").remove()
  cAxis.selectAll(".tick line").attr("stroke", "#000").attr("stroke-width", lw)
  cAxis.selectAll(".tick text")
    .attr("dy", "0.38em")
    .style("font-family", "DejaVu Sans")
    .style("font-size", "39px")
    .attr("fill", "#000")
  g.append("text")
    .attr("transform", `translate(${1092 + i * step},${(cbTop + cbBottom) / 2}) rotate(-90)`)
    .attr("text-anchor", "middle")
    .style("font-size", "39px")
    .text("Chgb expression (X)")
})
</script>
</body>
</html>
